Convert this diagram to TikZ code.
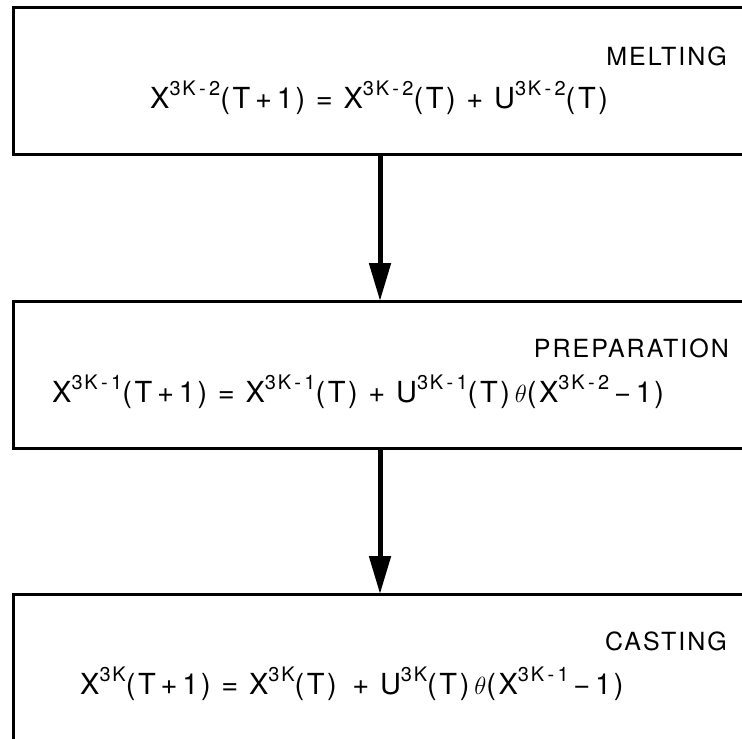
\documentclass[tikz,border=0pt]{standalone}
\usepackage{fontspec}
\setmainfont{TeX Gyre Heros}
\newfontfamily\labfont[LetterSpace=8]{TeX Gyre Heros}
\newfontfamily\eqfont[LetterSpace=9]{TeX Gyre Heros}
\usetikzlibrary{arrows.meta}
\newcommand{\sps}[1]{\raisebox{13pt}{\fontsize{20}{20}\selectfont #1}}
\tikzset{
  stagebox/.style={draw, line width=2.6pt, minimum width=780pt, minimum height=147pt, anchor=north west, inner sep=0pt},
  stagelabel/.style={anchor=base east, inner sep=0pt, font=\labfont\fontsize{25}{28}\selectfont},
  stageeq/.style={anchor=base west, inner sep=0pt, font=\eqfont\fontsize{29}{32}\selectfont},
  flow/.style={line width=5pt, -{Triangle[length=38pt,width=21pt]}, shorten >=-1pt}
}
\begin{document}
\begin{tikzpicture}[x=1pt,y=-1pt]
\useasboundingbox (0,0) rectangle (742,739);
\clip (0,0) rectangle (742,739);
\node[stagebox] (melt) at (12,6) {};
\node[stagebox] (prep) at (12,300) {};
\node[stagebox] (cast) at (12,593) {};
\coordinate (ax) at (380,0);
\node[stagelabel] (meltlab) at (727,65) {MELTING};
\node[stagelabel] (preplab) at (729,357) {PREPARATION};
\node[stagelabel] (castlab) at (727,650) {CASTING};
\node[stageeq] (melteq) at (150,108) {X\sps{3K\,-\,2}(T\,+\,1) = X\sps{3K\,-\,2}(T) + U\sps{3K\,-\,2}(T)};
\node[stageeq] (prepeq) at (52,402) {X\sps{3K\,-\,1}(T\,+\,1) = X\sps{3K\,-\,1}(T) + U\sps{3K\,-\,1}(T)\,$\theta$(X\sps{3K\,-\,2}\,−\,1)};
\node[stageeq] (casteq) at (80,694) {X\sps{3K}(T\,+\,1) = X\sps{3K}(T) \,+ U\sps{3K}(T)\,$\theta$(X\sps{3K\,-\,1}\,−\,1)};
\draw[flow] (melt.south -| ax) -- (prep.north -| ax);
\draw[flow] (prep.south -| ax) -- (cast.north -| ax);
\end{tikzpicture}
\end{document}
